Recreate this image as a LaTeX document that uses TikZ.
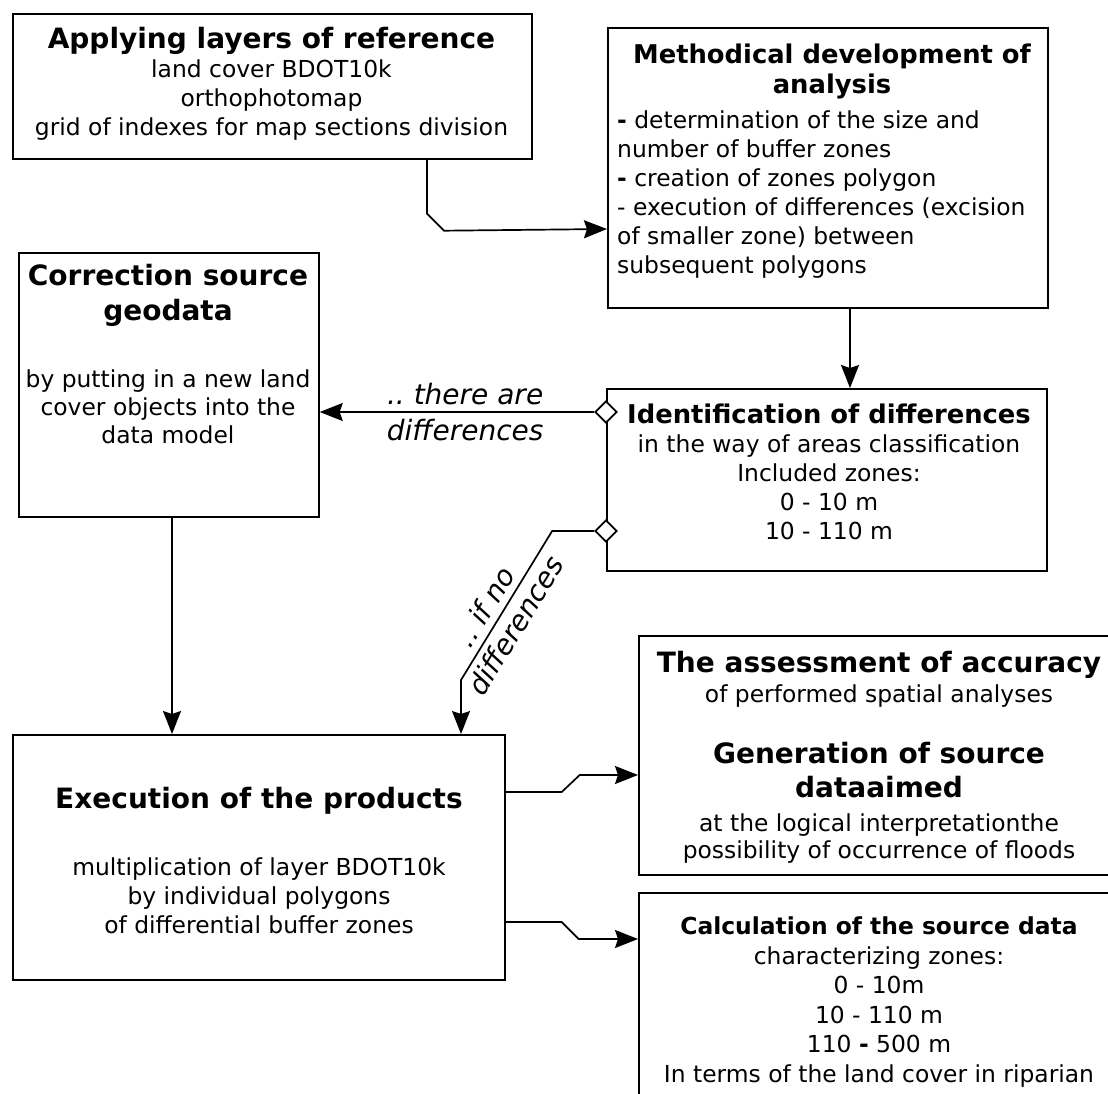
\documentclass[tikz,border=0pt]{standalone}
\usepackage{fontspec}
\setmainfont{DejaVu Sans}[BoldFont={DejaVu Sans Bold},ItalicFont={DejaVu Sans Oblique},BoldItalicFont={DejaVu Sans Bold Oblique}]
\usetikzlibrary{arrows.meta,shapes.geometric,calc}
\frenchspacing
\newcommand\fBody{\fontsize{23.4}{29}\selectfont}
\newcommand\fHead{\fontsize{28}{35}\selectfont\bfseries}
\newcommand\fHeadM{\fontsize{25.8}{30}\selectfont\bfseries}
\newcommand\fHeadS{\fontsize{23.4}{29}\selectfont\bfseries}
\newcommand\fLab{\fontsize{28}{36}\selectfont\itshape}
\tikzset{
 box/.style={draw, line width=1.7pt, inner sep=0pt, anchor=north west},
 txt/.style={inner sep=0pt, align=center, anchor=base},
 conn/.style={line width=1.7pt},
 arr/.style={conn, -{Stealth[length=23pt,width=18pt,inset=3pt]}},
 dmd/.style={diamond, draw, fill=white, line width=1.7pt, minimum width=22pt, minimum height=22pt, inner sep=0pt, shape aspect=1},
 lab/.style={font=\fLab, align=center, inner sep=0pt},
}
\begin{document}
\begin{tikzpicture}[x=1pt,y=-1pt]
\clip (0,0) rectangle (1108,1093);
\fill[white] (0,0) rectangle (1108,1093);

% boxes
\node[box, minimum width=519pt, minimum height=145pt] (A) at (12,13) {};
\node[box, minimum width=440pt, minimum height=280pt] (B) at (607,27) {};
\node[box, minimum width=300pt, minimum height=264pt] (C) at (18,252) {};
\node[box, minimum width=440pt, minimum height=182pt] (D) at (606,388) {};
\node[box, minimum width=492pt, minimum height=245pt] (E) at (12,734) {};
\node[box, minimum width=482pt, minimum height=239pt] (F) at (638,635) {};
\node[box, minimum width=482pt, minimum height=220pt] (G) at (638,892) {};

% texts
\node[txt, font=\fontsize{23.4}{29}\selectfont] (At) at (271.5,135)
 {{\fHead Applying layers of reference}\\land cover BDOT10k\\orthophotomap\\grid of indexes for map sections division};
\node[txt, font=\fHeadM] (Bh) at (832,93) {Methodical development of\\analysis};
\node[inner sep=0pt, align=left, anchor=base west, font=\fBody] (Bb) at (617,273)
 {\textbf{-} determination of the size and\\number of buffer zones\\\textbf{-} creation of zones polygon\\- execution of differences (excision\\of smaller zone) between\\subsequent polygons};
\node[txt, font=\fontsize{23.4}{28}\selectfont] (Ct) at (168,443)
 {{\fHead Correction source}\\[7pt]{\fHead geodata}\\[39pt]by putting in a new land\\cover objects into the\\data model};
\node[txt, font=\fBody] (Dt) at (829,539)
 {{\fHeadM Identification of differences}\\in the way of areas classification\\Included zones:\\0 - 10 m\\10 - 110 m};
\node[txt, font=\fBody] (Et) at (259,933)
 {{\fHead Execution of the products}\\[38pt]multiplication of layer BDOT10k\\by individual polygons\\of differential buffer zones};
\node[txt, font=\fBody] (Ft) at (879,858)
 {{\fHead The assessment of accuracy}\\[1pt]of performed spatial analyses\\[32pt]{\fHead Generation of source}\\[5pt]{\fHead dataaimed}\\[5pt]at the logical interpretationthe\\[-2pt]possibility of occurrence of floods};
\node[txt, font=\fontsize{23.4}{29.5}\selectfont] (Gt) at (879,1082)
 {{\fHeadS Calculation of the source data}\\characterizing zones:\\0 - 10m\\10 - 110 m\\110 \textbf{-} 500 m\\In terms of the land cover in riparian};

% connectors
\draw[arr] ($(A.south west)+(415,0)$) -- ++(0,54) -- ++(17,17) -- ($(B.north west)+(0,202)$);
\draw[arr] ($(B.south west)+(243,0)$) -- ($(D.north west)+(244,0)$);
\draw[arr] ($(C.south west)+(154,0)$) -- ($(E.north west)+(160,0)$);
\node[dmd] (d1) at (606,412) {};
\node[dmd] (d2) at (606,531) {};
\draw[arr] (d1.west) -- node[lab, pos=0.47] (l1) {.. there are\\differences} (C.east |- d1.west);
\draw[arr] (d2.west) -- ++(-42,0) -- node[lab, sloped, pos=0.57] (l2) {.. if no\\differences} ($(E.north west)+(449,-54)$) -- ($(E.north west)+(449,0)$);
\draw[arr] ($(E.north east)+(0,58)$) -- ++(56,0) -- ++(18,-17) -- ($(F.north west)+(0,140)$);
\draw[arr] ($(E.north east)+(0,188)$) -- ++(56,0) -- ++(17,17) -- ($(G.north west)+(0,47)$);
\end{tikzpicture}
\end{document}
